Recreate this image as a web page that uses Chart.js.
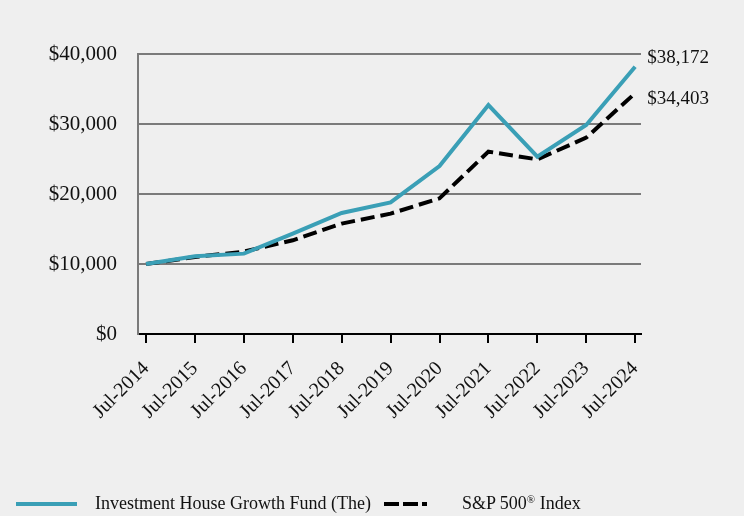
<!DOCTYPE html>
<html>
<head>
<meta charset="utf-8">
<script src="https://cdn.jsdelivr.net/npm/chart.js@4.4.1/dist/chart.umd.min.js"></script>
<style>
  html, body { margin: 0; padding: 0; background: #efefef; }
  #wrap { position: relative; width: 744px; height: 516px; }
  #legend { position: absolute; left: 0; top: 492px; width: 744px; height: 22px;
    font-family: "Liberation Serif", "Times New Roman", serif; font-size: 18px; color: #111; }
  .item { position: absolute; top: 0; line-height: 22px; white-space: nowrap; }
  .swatch { position: absolute; top: 10px; height: 4px; }
  sup { font-size: 11px; vertical-align: 6px; line-height: 0; }
</style>
</head>
<body>
<div id="wrap">
  <canvas id="chart" width="744" height="516"></canvas>
  <div id="legend">
    <div class="swatch" style="left:16px; width:61px; background:#3a9fb6;"></div>
    <div class="item" style="left:95px;">Investment House Growth Fund (The)</div>
    <div class="swatch" style="left:384px; width:15px; background:#000;"></div>
    <div class="swatch" style="left:403px; width:15px; background:#000;"></div>
    <div class="swatch" style="left:422px; width:5px; background:#000;"></div>
    <div class="item" style="left:462px;">S&amp;P 500<sup>®</sup> Index</div>
  </div>
</div>
<script>
// Werte
const labels = ["Jul-2014", "Jul-2015", "Jul-2016", "Jul-2017", "Jul-2018", "Jul-2019",
  "Jul-2020", "Jul-2021", "Jul-2022", "Jul-2023", "Jul-2024"];
const fundValues = [10000, 11100, 11480, 14340, 17290, 18810, 24000, 32700, 25330, 29860, 38172];
const sp500Values = [10000, 11000, 11770, 13390, 15770, 17200, 19380, 26050, 24950, 28050, 34403];
const yTicks = [0, 10000, 20000, 30000, 40000];

const serif = "'Liberation Serif', 'Times New Roman', serif";

function money(v) {
  return "$" + v.toLocaleString("en-US");
}

// Endwerte rechts neben den Linien
const endLabels = {
  id: "endLabels",
  afterDatasetsDraw(chart) {
    const ctx = chart.ctx;
    const x = chart.scales.x;
    const y = chart.scales.y;
    const last = labels.length - 1;
    ctx.save();
    ctx.font = "19px " + serif;
    ctx.fillStyle = "#111";
    ctx.textBaseline = "middle";
    ctx.textAlign = "left";
    ctx.fillText(money(fundValues[last]), x.getPixelForValue(last) + 12, y.getPixelForValue(fundValues[last]) - 9);
    ctx.fillText(money(sp500Values[last]), x.getPixelForValue(last) + 12, y.getPixelForValue(sp500Values[last]) + 6);
    ctx.restore();
  }
};

const ctx = document.getElementById("chart").getContext("2d");
new Chart(ctx, {
  type: "line",
  data: {
    datasets: [
      {
        label: "Investment House Growth Fund (The)",
        data: fundValues.map((v, i) => ({ x: i, y: v })),
        borderColor: "#3a9fb6",
        borderWidth: 4,
        pointRadius: 0,
        tension: 0,
      },
      {
        label: "S&P 500® Index",
        data: sp500Values.map((v, i) => ({ x: i, y: v })),
        borderColor: "#000",
        borderWidth: 4,
        borderDash: [14, 6],
        pointRadius: 0,
        tension: 0,
      },
    ],
  },
  options: {
    responsive: false,
    animation: false,
    layout: { padding: { top: 54, right: 103, left: 0, bottom: 0 } },
    plugins: { legend: { display: false }, tooltip: { enabled: false } },
    scales: {
      x: {
        type: "linear",
        min: -0.165,
        max: 10.12,
        afterBuildTicks(scale) {
          scale.ticks = labels.map((l, i) => ({ value: i }));
        },
        afterFit(scale) { scale.height = 182; },
        ticks: {
          callback: (v) => labels[v],
          font: { family: serif, size: 20 },
          color: "#111",
          minRotation: 45,
          maxRotation: 45,
          padding: 14,
          autoSkip: false,
        },
        grid: { drawOnChartArea: false, drawTicks: true, tickLength: 9, color: "#000", lineWidth: 2 },
        border: { color: "#000", width: 2 },
      },
      y: {
        min: 0,
        max: 40000,
        afterBuildTicks(scale) {
          scale.ticks = yTicks.map((v) => ({ value: v }));
        },
        afterFit(scale) { scale.width = 138; },
        ticks: {
          callback: (v) => money(v),
          font: { family: serif, size: 21 },
          color: "#111",
          padding: 21,
        },
        grid: { drawTicks: false, color: "#7a7a7a", lineWidth: 2 },
        border: { color: "#7a7a7a", width: 2 },
      },
    },
  },
  plugins: [endLabels],
});
</script>
</body>
</html>
